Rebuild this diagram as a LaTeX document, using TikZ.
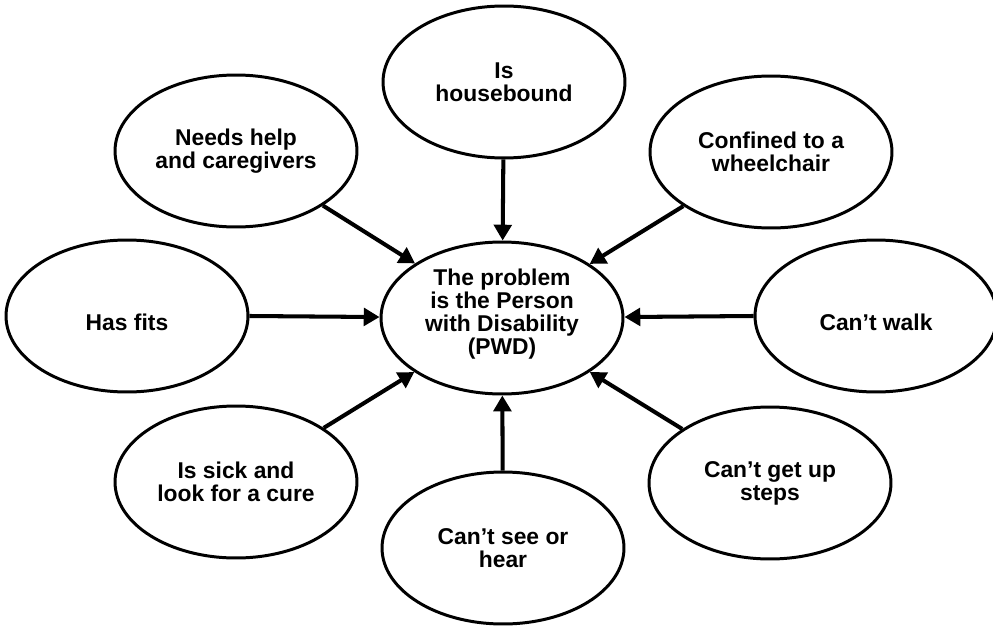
\documentclass[tikz,border=0pt]{standalone}
\usepackage{fontspec}
\setmainfont{Liberation Sans}
\usetikzlibrary{shapes.geometric,arrows.meta}
\tikzset{
  bubble/.style={draw, ellipse, line width=1.7pt, minimum width=4.84cm,
    minimum height=3.04cm, inner sep=0pt, align=center,
    font=\fontsize{13}{13}\selectfont\bfseries},
  push/.style={->, line width=2.3pt}
}
\begin{document}
\begin{tikzpicture}[x=0.02cm, y=-0.02cm, >={Triangle[length=9pt,width=10pt]}]
  \useasboundingbox (0,0) rectangle (993,625);
  % 中心の楕円
  \node[bubble] (pwd) at (502,318) {The problem\\is the Person\\with Disability\\(PWD)\\[-6pt]};
  % 周りの楕円
  \node[bubble] (house) at (504,82) {Is\\housebound};
  \node[bubble] (help) at (236,151) {Needs help\\and caregivers};
  \node[bubble] (chair) at (771,152) {Confined to a\\wheelchair};
  \node[bubble] (fits) at (127,316) {\raisebox{-8pt}[0pt][0pt]{Has fits}};
  \node[bubble] (walk) at (876,316) {\raisebox{-8pt}[0pt][0pt]{Can't walk}};
  \node[bubble] (sick) at (236,482) {Is sick and\\look for a cure};
  \node[bubble] (steps) at (770,483) {Can't get up\\steps};
  \node[bubble] (see) at (503,548) {Can't see or\\hear};
  % 矢印
  \draw[push] (house) -- (pwd);
  \draw[push] (help) -- (pwd);
  \draw[push] (chair) -- (pwd);
  \draw[push] (fits.east) -- (pwd);
  \draw[push] (walk.west) -- (pwd);
  \draw[push] (sick) -- (pwd);
  \draw[push] (steps) -- (pwd);
  \draw[push] (see) -- (pwd);
\end{tikzpicture}
\end{document}
